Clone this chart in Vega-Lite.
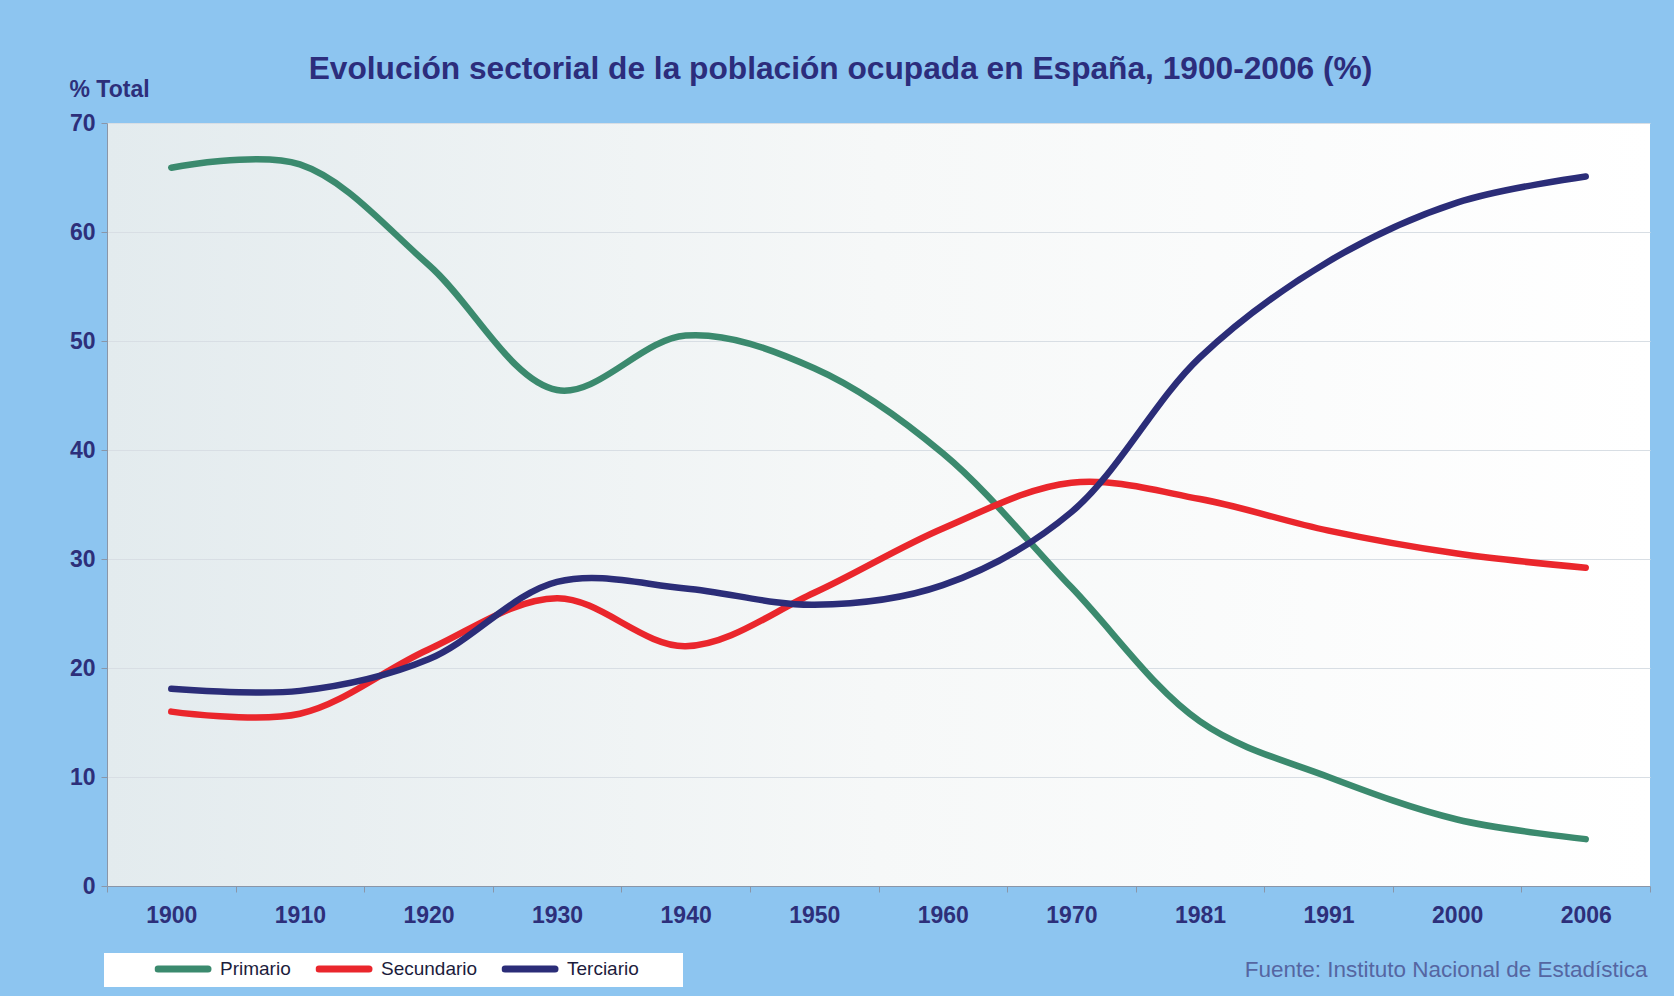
{
  "$schema": "https://vega.github.io/schema/vega-lite/v6.json",
  "width": 1543,
  "height": 763,
  "autosize": "none",
  "padding": {"left": 107, "top": 123, "right": 24, "bottom": 110},
  "background": "#8dc5f0",
  "title": {
    "text": "Evolución sectorial de la población ocupada en España, 1900-2006 (%)",
    "anchor": "middle",
    "frame": "group",
    "dx": -38,
    "offset": -8,
    "font": "Liberation Sans",
    "fontSize": 31.7,
    "fontWeight": "bold",
    "color": "#2c2d7c"
  },
  "data": {
    "values": [
      {"anio": "1900", "sector": "Primario", "valor": 65.9},
      {"anio": "1910", "sector": "Primario", "valor": 66.2},
      {"anio": "1920", "sector": "Primario", "valor": 57.0},
      {"anio": "1930", "sector": "Primario", "valor": 45.5},
      {"anio": "1940", "sector": "Primario", "valor": 50.5},
      {"anio": "1950", "sector": "Primario", "valor": 47.5},
      {"anio": "1960", "sector": "Primario", "valor": 39.7},
      {"anio": "1970", "sector": "Primario", "valor": 27.4},
      {"anio": "1981", "sector": "Primario", "valor": 15.1},
      {"anio": "1991", "sector": "Primario", "valor": 10.0},
      {"anio": "2000", "sector": "Primario", "valor": 6.1},
      {"anio": "2006", "sector": "Primario", "valor": 4.3},
      {"anio": "1900", "sector": "Secundario", "valor": 16.0},
      {"anio": "1910", "sector": "Secundario", "valor": 15.8},
      {"anio": "1920", "sector": "Secundario", "valor": 21.7},
      {"anio": "1930", "sector": "Secundario", "valor": 26.4},
      {"anio": "1940", "sector": "Secundario", "valor": 22.0},
      {"anio": "1950", "sector": "Secundario", "valor": 26.9},
      {"anio": "1960", "sector": "Secundario", "valor": 32.8},
      {"anio": "1970", "sector": "Secundario", "valor": 37.0},
      {"anio": "1981", "sector": "Secundario", "valor": 35.5},
      {"anio": "1991", "sector": "Secundario", "valor": 32.6},
      {"anio": "2000", "sector": "Secundario", "valor": 30.5},
      {"anio": "2006", "sector": "Secundario", "valor": 29.2},
      {"anio": "1900", "sector": "Terciario", "valor": 18.1},
      {"anio": "1910", "sector": "Terciario", "valor": 17.9},
      {"anio": "1920", "sector": "Terciario", "valor": 20.8},
      {"anio": "1930", "sector": "Terciario", "valor": 27.9},
      {"anio": "1940", "sector": "Terciario", "valor": 27.3},
      {"anio": "1950", "sector": "Terciario", "valor": 25.8},
      {"anio": "1960", "sector": "Terciario", "valor": 27.6},
      {"anio": "1970", "sector": "Terciario", "valor": 34.3},
      {"anio": "1981", "sector": "Terciario", "valor": 48.5},
      {"anio": "1991", "sector": "Terciario", "valor": 57.3},
      {"anio": "2000", "sector": "Terciario", "valor": 62.7},
      {"anio": "2006", "sector": "Terciario", "valor": 65.1}
    ]
  },
  "mark": {"type": "line", "interpolate": "catmull-rom", "strokeWidth": 6.5, "strokeCap": "round"},
  "encoding": {
    "x": {
      "field": "anio",
      "type": "ordinal",
      "sort": null,
      "bandPosition": 0.5,
      "scale": {"type": "band", "paddingInner": 0, "paddingOuter": 0},
      "axis": {
        "title": "Fuente: Instituto Nacional de Estadística",
        "titleFont": "Liberation Sans",
        "titleFontWeight": "normal",
        "titleFontSize": 22.5,
        "titleColor": "#5566a2",
        "titleAlign": "right",
        "titleBaseline": "middle",
        "titleX": 1540,
        "titleY": 83,
        "labelAngle": 0,
        "labelFont": "Liberation Sans",
        "labelFontWeight": "bold",
        "labelFontSize": 23,
        "labelColor": "#2d2f7a",
        "labelPadding": 12,
        "tickBand": "extent",
        "tickSize": 6,
        "tickColor": "#8a96a8",
        "domainColor": "#8a96a8",
        "grid": false
      }
    },
    "y": {
      "field": "valor",
      "type": "quantitative",
      "scale": {"domain": [0, 70], "nice": false},
      "axis": {
        "title": "% Total",
        "titleFont": "Liberation Sans",
        "titleFontWeight": "bold",
        "titleFontSize": 23,
        "titleColor": "#2d2f7a",
        "titleAngle": 0,
        "titleAlign": "left",
        "titleBaseline": "alphabetic",
        "titleX": -38,
        "titleY": -27,
        "values": [0, 10, 20, 30, 40, 50, 60, 70],
        "labelFont": "Liberation Sans",
        "labelFontWeight": "bold",
        "labelFontSize": 23,
        "labelColor": "#2d2f7a",
        "labelPadding": 6,
        "tickSize": 6,
        "tickColor": "#8a96a8",
        "domainColor": "#8a96a8",
        "grid": true,
        "gridColor": "#d8dee4",
        "gridWidth": 1
      }
    },
    "color": {
      "field": "sector",
      "type": "nominal",
      "scale": {"domain": ["Primario", "Secundario", "Terciario"], "range": ["#3b8a6e", "#ea262c", "#2b2d78"]},
      "legend": {
        "title": "\u00a0",
        "titleOrient": "left",
        "titlePadding": 43.5,
        "titleFontSize": 19,
        "orient": "none",
        "direction": "horizontal",
        "legendX": -3,
        "legendY": 830,
        "fillColor": "#ffffff",
        "padding": 7,
        "clipHeight": 18,
        "symbolOffset": 0,
        "symbolType": "stroke",
        "symbolSize": 2500,
        "symbolStrokeWidth": 7,
        "labelFont": "Liberation Sans",
        "labelFontSize": 19,
        "labelColor": "#1c1c3c",
        "labelOffset": 8.5,
        "labelLimit": 300,
        "labelExpr": "datum.label == 'Terciario' ? 'Terciario\u00a0\u00a0\u00a0\u00a0\u00a0\u00a0\u00a0\u200b' : datum.label",
        "columnPadding": 24,
        "encode": {"symbols": {"update": {"strokeCap": {"value": "round"}}}}
      }
    }
  },
  "config": {
    "view": {
      "stroke": null,
      "fill": {
        "gradient": "linear",
        "x1": 0, "y1": 0.5, "x2": 1, "y2": 0.5,
        "stops": [{"offset": 0, "color": "#e3ebee"}, {"offset": 0.5, "color": "#f6f8f8"}, {"offset": 1, "color": "#ffffff"}]
      }
    }
  }
}
